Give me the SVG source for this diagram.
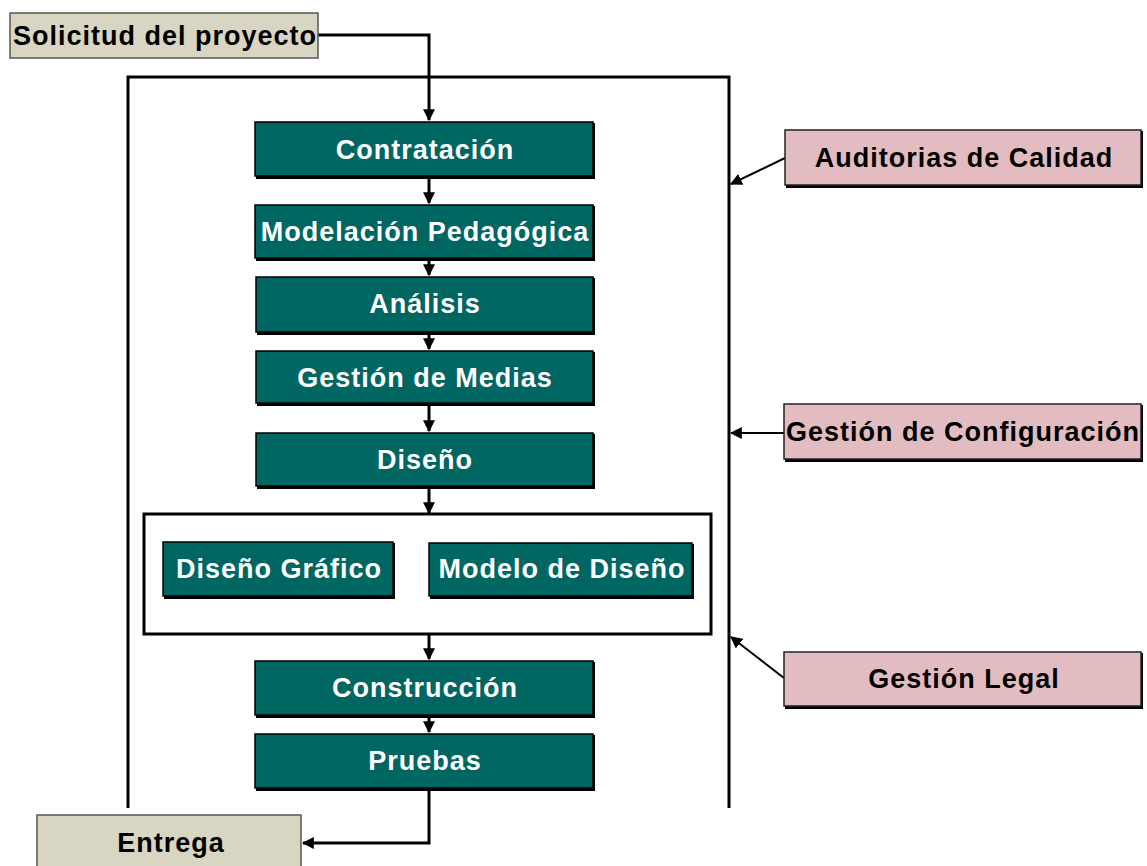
<svg xmlns="http://www.w3.org/2000/svg" width="1147" height="866" viewBox="0 0 1147 866">
  <style>
    .step rect.face { fill: #006661; stroke: #000; stroke-width: 1.5; }
    .step rect.shade, .note rect.shade, .io rect.shade { fill: #000; }
    .step text { fill: #fff; font-family: "Liberation Sans", Arial, sans-serif; font-weight: bold; font-size: 27px; letter-spacing: 1px; text-anchor: middle; dominant-baseline: central; }
    .io rect.face { fill: #d8d5c2; stroke: #555; stroke-width: 1.5; }
    .note rect.face { fill: #e3bcc1; stroke: #222; stroke-width: 1.5; }
    .io text, .note text { fill: #000; font-family: "Liberation Sans", Arial, sans-serif; font-weight: bold; font-size: 27px; letter-spacing: 1px; text-anchor: middle; dominant-baseline: central; }
    .wire { fill: none; stroke: #000; stroke-width: 3; }
    .thin { fill: none; stroke: #000; stroke-width: 2; }
  </style>
  <defs>
    <marker id="head" viewBox="0 0 10 10" refX="9" refY="5" markerWidth="4" markerHeight="4" orient="auto" markerUnits="strokeWidth">
      <path d="M0,0 L10,5 L0,10 z" fill="#000"/>
    </marker>
    <marker id="headS" viewBox="0 0 10 10" refX="9" refY="5" markerWidth="6" markerHeight="6" orient="auto" markerUnits="strokeWidth">
      <path d="M0,0 L10,5 L0,10 z" fill="#000"/>
    </marker>
  </defs>
  <rect width="1147" height="866" fill="#fff"/>

  <!-- frame around the process -->
  <g id="frame">
    <path class="wire" d="M128,808 V77 H729 V808"/>
    <rect x="144" y="514" width="567" height="120" fill="#fff" stroke="#000" stroke-width="3"/>
  </g>

  <!-- connectors -->
  <g id="connectors">
    <path class="wire" d="M318,35 H429 V120" marker-end="url(#head)"/>
    <path class="wire" d="M429,178 V203" marker-end="url(#head)"/>
    <path class="wire" d="M429,260 V275" marker-end="url(#head)"/>
    <path class="wire" d="M429,334 V349" marker-end="url(#head)"/>
    <path class="wire" d="M429,405 V431" marker-end="url(#head)"/>
    <path class="wire" d="M429,488 V513" marker-end="url(#head)"/>
    <path class="wire" d="M429,635 V659" marker-end="url(#head)"/>
    <path class="wire" d="M429,717 V732" marker-end="url(#head)"/>
    <path class="wire" d="M429,790 V843 H303" marker-end="url(#head)"/>
    <path class="thin" d="M785,158 L731,184" marker-end="url(#headS)"/>
    <path class="thin" d="M784,433 H731" marker-end="url(#headS)"/>
    <path class="thin" d="M784,678 L731,637" marker-end="url(#headS)"/>
  </g>

  <g id="solicitud" class="io">
    <rect class="face" x="10" y="13" width="308" height="45"/>
    <text x="165" y="36">Solicitud del proyecto</text>
  </g>
  <g id="entrega" class="io">
    <rect class="face" x="37" y="815" width="264" height="55"/>
    <text x="171" y="843">Entrega</text>
  </g>

  <g id="contratacion" class="step">
    <rect class="shade" x="256" y="123" width="339" height="56"/>
    <rect class="face" x="255" y="122" width="338" height="54"/>
    <text x="425" y="150">Contratación</text>
  </g>
  <g id="modelacion" class="step">
    <rect class="shade" x="256" y="206" width="339" height="55"/>
    <rect class="face" x="255" y="205" width="338" height="53"/>
    <text x="425" y="232">Modelación Pedagógica</text>
  </g>
  <g id="analisis" class="step">
    <rect class="shade" x="257" y="278" width="338" height="57"/>
    <rect class="face" x="256" y="277" width="337" height="55"/>
    <text x="425" y="304">Análisis</text>
  </g>
  <g id="medias" class="step">
    <rect class="shade" x="257" y="352" width="338" height="54"/>
    <rect class="face" x="256" y="351" width="337" height="52"/>
    <text x="425" y="378">Gestión de Medias</text>
  </g>
  <g id="diseno" class="step">
    <rect class="shade" x="257" y="434" width="338" height="55"/>
    <rect class="face" x="256" y="433" width="337" height="53"/>
    <text x="425" y="460">Diseño</text>
  </g>
  <g id="grafico" class="step">
    <rect class="shade" x="164" y="543" width="231" height="56"/>
    <rect class="face" x="163" y="542" width="230" height="54"/>
    <text x="279" y="569">Diseño Gráfico</text>
  </g>
  <g id="modelo" class="step">
    <rect class="shade" x="430" y="544" width="264" height="55"/>
    <rect class="face" x="429" y="543" width="263" height="53"/>
    <text x="562" y="569">Modelo de Diseño</text>
  </g>
  <g id="construccion" class="step">
    <rect class="shade" x="256" y="662" width="339" height="56"/>
    <rect class="face" x="255" y="661" width="338" height="54"/>
    <text x="425" y="688">Construcción</text>
  </g>
  <g id="pruebas" class="step">
    <rect class="shade" x="256" y="735" width="339" height="56"/>
    <rect class="face" x="255" y="734" width="338" height="54"/>
    <text x="425" y="761">Pruebas</text>
  </g>

  <g id="auditorias" class="note">
    <rect class="shade" x="786" y="131" width="357" height="57"/>
    <rect class="face" x="785" y="130" width="356" height="55"/>
    <text x="964" y="158">Auditorias de Calidad</text>
  </g>
  <g id="configuracion" class="note">
    <rect class="shade" x="785" y="405" width="358" height="57"/>
    <rect class="face" x="784" y="404" width="357" height="55"/>
    <text x="963" y="432">Gestión de Configuración</text>
  </g>
  <g id="legal" class="note">
    <rect class="shade" x="785" y="653" width="358" height="56"/>
    <rect class="face" x="784" y="652" width="357" height="54"/>
    <text x="964" y="679">Gestión Legal</text>
  </g>
</svg>
